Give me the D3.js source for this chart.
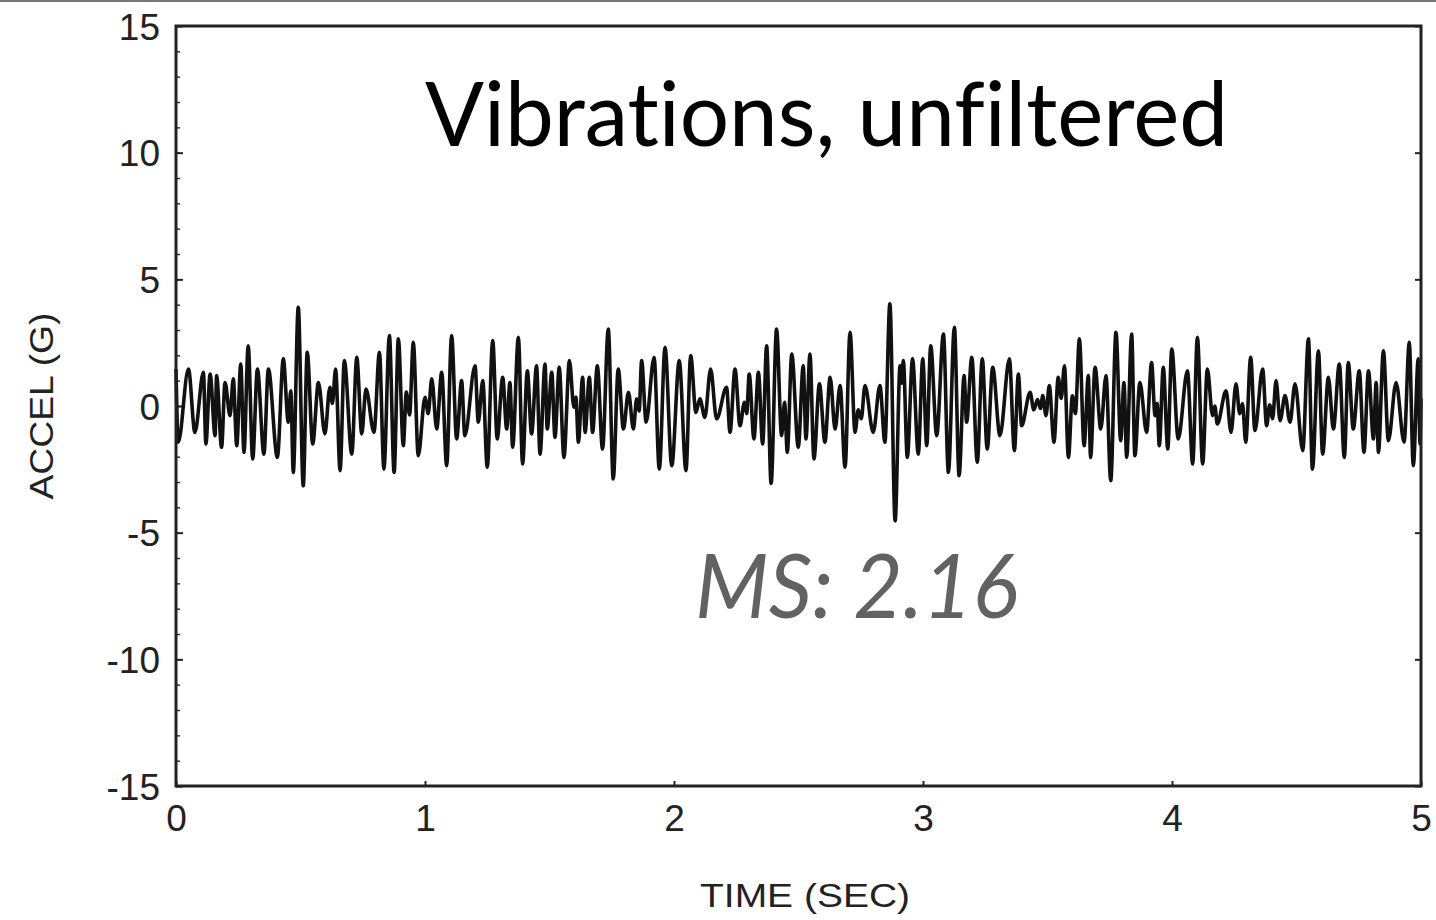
<!DOCTYPE html>
<html>
<head>
<meta charset="utf-8">
<script src="https://cdn.jsdelivr.net/npm/d3@7"></script>
<style>
  body { margin: 0; background: #fff; overflow: hidden; }
</style>
</head>
<body>
<div id="vis"></div>
<script>
// accelerometer trace, one swing at a time (sec, G)
let time = [
  0.000, 0.009, 0.050, 0.076, 0.110, 0.120, 0.137, 0.157, 0.163, 0.183,
  0.197, 0.217, 0.230, 0.244, 0.260, 0.273, 0.290, 0.308, 0.327, 0.353,
  0.371, 0.407, 0.431, 0.451, 0.461, 0.471, 0.491, 0.511, 0.527, 0.549,
  0.572, 0.598, 0.618, 0.628, 0.641, 0.659, 0.676, 0.706, 0.726, 0.746,
  0.763, 0.795, 0.817, 0.835, 0.857, 0.876, 0.893, 0.913, 0.925, 0.938,
  0.953, 0.973, 1.000, 1.013, 1.027, 1.047, 1.067, 1.087, 1.107, 1.127,
  1.147, 1.160, 1.201, 1.214, 1.232, 1.250, 1.272, 1.290, 1.312, 1.328,
  1.341, 1.352, 1.375, 1.392, 1.411, 1.428, 1.448, 1.462, 1.482, 1.491,
  1.509, 1.522, 1.539, 1.558, 1.580, 1.598, 1.606, 1.616, 1.633, 1.643,
  1.660, 1.673, 1.692, 1.713, 1.736, 1.756, 1.776, 1.797, 1.817, 1.837,
  1.850, 1.860, 1.870, 1.888, 1.920, 1.941, 1.964, 1.991, 2.021, 2.048,
  2.067, 2.088, 2.104, 2.124, 2.147, 2.171, 2.211, 2.225, 2.245, 2.265,
  2.283, 2.292, 2.302, 2.321, 2.339, 2.356, 2.372, 2.390, 2.412, 2.432,
  2.444, 2.455, 2.473, 2.499, 2.519, 2.530, 2.546, 2.562, 2.584, 2.606,
  2.627, 2.647, 2.667, 2.687, 2.707, 2.727, 2.740, 2.752, 2.767, 2.800,
  2.827, 2.847, 2.867, 2.888, 2.908, 2.914, 2.921, 2.937, 2.958, 2.981,
  2.999, 3.015, 3.031, 3.055, 3.082, 3.102, 3.126, 3.145, 3.165, 3.175,
  3.196, 3.218, 3.238, 3.258, 3.280, 3.309, 3.347, 3.367, 3.383, 3.396,
  3.430, 3.445, 3.460, 3.472, 3.481, 3.494, 3.507, 3.526, 3.543, 3.555,
  3.568, 3.584, 3.600, 3.612, 3.628, 3.647, 3.664, 3.673, 3.691, 3.714,
  3.735, 3.754, 3.775, 3.794, 3.807, 3.818, 3.838, 3.851, 3.871, 3.898,
  3.918, 3.932, 3.940, 3.949, 3.965, 3.983, 3.999, 4.025, 4.062, 4.083,
  4.102, 4.123, 4.142, 4.163, 4.172, 4.182, 4.217, 4.237, 4.257, 4.272,
  4.283, 4.296, 4.316, 4.333, 4.364, 4.380, 4.392, 4.404, 4.418, 4.434,
  4.454, 4.474, 4.494, 4.525, 4.548, 4.564, 4.588, 4.605, 4.628, 4.648,
  4.672, 4.692, 4.708, 4.728, 4.752, 4.771, 4.789, 4.809, 4.820, 4.829,
  4.849, 4.869, 4.900, 4.932, 4.953, 4.969, 4.989, 4.996, 5.000
]
let accel = [
   1.46, -1.43,  1.46, -1.04,  1.33, -1.50,  1.26, -1.17,  1.20, -1.63,
   0.93, -0.38,  1.07, -1.57,  1.66, -1.83,  2.38, -2.09,  1.46, -1.90,
   1.46, -2.03,  1.86, -0.64,  0.60, -2.62,  3.90, -3.15,  2.12, -1.50,
   0.93, -1.10,  0.74,  0.10,  1.46, -2.55,  1.79, -1.90,  1.92, -1.10,
   0.67, -1.04,  2.12, -2.49,  2.78, -2.62,  2.65, -1.57,  0.55, -0.35,
   2.51, -1.96,  0.34, -0.30,  1.07, -0.91,  1.33, -2.36,  2.78, -1.30,
   1.00, -1.17,  1.59, -0.64,  1.00, -2.42,  2.58, -1.30,  1.13, -0.91,
   0.93, -1.63,  2.71, -2.29,  1.39, -1.10,  1.59, -1.90,  1.66, -0.91,
   1.33, -1.24,  1.53, -2.03,  1.79, -0.05,  0.35, -1.43,  1.13, -1.04,
   1.13, -1.04,  1.59, -1.70,  3.04, -2.88,  1.46, -0.91,  0.54, -0.91,
   0.28, -0.20,  1.79, -0.64,  1.92, -2.49,  2.32, -2.36,  1.79, -2.55,
   1.99, -0.25,  0.28, -0.45,  1.46, -0.51,  0.74, -1.04,  1.46, -0.78,
   0.15, -0.30,  1.26, -1.30,  1.33, -1.50,  2.38, -3.05,  3.04, -1.17,
   0.15, -1.83,  2.05, -1.63,  1.59, -1.30,  2.05, -2.09,  0.88, -1.43,
   1.13, -0.91,  0.81, -2.42,  2.91, -1.04, -0.15, -0.50,  0.81, -1.04,
   0.81, -1.43,  4.03, -4.53,  1.59,  0.90,  1.79, -2.03,  1.86, -1.90,
   1.86, -1.57,  2.38, -1.17,  2.84, -2.62,  3.11, -2.75,  1.20, -0.64,
   1.92, -2.22,  1.86, -1.70,  1.53, -1.17,  1.86, -1.76,  1.26, -0.78,
   0.54, -0.15,  0.25, -0.10,  0.41, -0.38,  0.81, -1.43,  1.13,  0.30,
   1.59, -2.03,  0.40, -0.30,  2.65, -1.57,  1.20, -2.03,  1.53, -0.91,
   1.20, -2.95,  2.91, -1.37,  0.93, -2.03,  2.84, -1.96,  0.93, -1.04,
   1.72, -0.38,  0.10, -1.57,  1.53, -1.70,  2.25, -1.30,  1.39, -2.29,
   2.71, -2.29,  1.46, -0.38,  0.00, -0.71,  0.60, -1.04,  0.88, -0.30,
   0.10, -1.43,  1.92, -0.97,  1.46, -0.78,  0.05, -0.50,  1.00, -0.58,
   0.41, -0.64,  0.88, -1.76,  2.65, -2.49,  2.18, -1.90,  1.13, -0.91,
   1.66, -2.03,  1.72, -0.91,  1.39, -1.83,  1.39, -1.30,  0.93, -1.83,
   2.18, -1.37,  0.93, -1.43,  2.51, -2.36,  1.86, -1.50,  0.30
]
let xTicks = [0, 1, 2, 3, 4, 5]
let yTicks = [-15, -10, -5, 0, 5, 10, 15]
let yMinor = d3.range(-15, 16, 1)
let title = 'Vibrations, unfiltered'
let note = 'MS: 2.16'

let width = 1436, height = 920
let plot = { left: 176, right: 1421, top: 26, bottom: 786 }

let svg = d3.select('#vis')
  .append('svg')
  .attr('width', width)
  .attr('height', height)
  .style('display', 'block')
  .style('background-color', 'white')

// thin rule along the very top of the slide
svg.append('rect')
  .attr('x', 0).attr('y', 0)
  .attr('width', width).attr('height', 2)
  .attr('fill', '#777')

let x = d3.scaleLinear().domain([0, 5]).range([plot.left, plot.right])
let y = d3.scaleLinear().domain([-15, 15]).range([plot.bottom, plot.top])

let tickFont = '"Liberation Sans", Arial, sans-serif'
let plain = d => String(d)   // plain hyphen minus, no decimals

// minor ticks on the left side, every 1 G
svg.append('g')
  .attr('transform', `translate(${plot.left},0)`)
  .call(d3.axisLeft(y).tickValues(yMinor).tickSize(-4).tickFormat(''))
  .call(g => g.select('.domain').remove())
  .call(g => g.selectAll('line').attr('stroke', '#333').attr('stroke-width', 1.5))

let yAxis = svg.append('g')
  .attr('transform', `translate(${plot.left},0)`)
  .call(d3.axisLeft(y).tickValues(yTicks).tickSize(-7).tickPadding(16).tickFormat(plain))
yAxis.select('.domain').remove()
yAxis.selectAll('line').attr('stroke', '#222').attr('stroke-width', 2)
yAxis.selectAll('text')
  .attr('dy', '0.36em')
  .style('font-family', tickFont)
  .style('font-size', '37px')
  .attr('fill', '#222')

// right side ticks, no labels
svg.append('g')
  .attr('transform', `translate(${plot.right},0)`)
  .call(d3.axisRight(y).tickValues(yTicks).tickSize(-6).tickFormat(''))
  .call(g => g.select('.domain').remove())
  .call(g => g.selectAll('line').attr('stroke', '#222').attr('stroke-width', 2))

let xAxis = svg.append('g')
  .attr('transform', `translate(0,${plot.bottom})`)
  .call(d3.axisBottom(x).tickValues(xTicks).tickSize(-5).tickPadding(19).tickFormat(plain))
xAxis.select('.domain').remove()
xAxis.selectAll('line').attr('stroke', '#222').attr('stroke-width', 2)
xAxis.selectAll('text')
  .style('font-family', tickFont)
  .style('font-size', '37px')
  .attr('fill', '#222')

// the trace
let line = d3.line()
  .x((d, i) => x(time[i]))
  .y(d => y(d))
  .curve(d3.curveMonotoneX)

svg.append('path')
  .datum(accel)
  .attr('d', line)
  .attr('fill', 'none')
  .attr('stroke', '#111')
  .attr('stroke-width', 3.6)
  .attr('stroke-linejoin', 'round')

// frame around the plot
svg.append('rect')
  .attr('x', plot.left).attr('y', plot.top)
  .attr('width', plot.right - plot.left)
  .attr('height', plot.bottom - plot.top)
  .attr('fill', 'none')
  .attr('stroke', '#222')
  .attr('stroke-width', 3)

// axis titles
svg.append('text')
  .attr('x', 805).attr('y', 907)
  .attr('text-anchor', 'middle')
  .attr('textLength', 210)
  .attr('lengthAdjust', 'spacingAndGlyphs')
  .style('font-family', tickFont)
  .style('font-size', '33px')
  .attr('fill', '#222')
  .text('TIME (SEC)')

svg.append('text')
  .attr('transform', 'translate(53,406) rotate(-90)')
  .attr('text-anchor', 'middle')
  .attr('textLength', 187)
  .attr('lengthAdjust', 'spacingAndGlyphs')
  .style('font-family', tickFont)
  .style('font-size', '33px')
  .attr('fill', '#222')
  .text('ACCEL (G)')

// slide annotations
svg.append('text')
  .attr('x', 425).attr('y', 146)
  .attr('textLength', 803)
  .attr('lengthAdjust', 'spacingAndGlyphs')
  .style('font-family', 'Lato, "Open Sans", sans-serif')
  .style('font-size', '89px')
  .style('font-feature-settings', '"liga" 0')
  .attr('fill', '#000')
  .text(title)

svg.append('text')
  .attr('x', 695).attr('y', 618)
  .attr('textLength', 323)
  .attr('lengthAdjust', 'spacingAndGlyphs')
  .style('font-family', 'Lato, "Open Sans", sans-serif')
  .style('font-style', 'italic')
  .style('font-size', '90px')
  .attr('fill', '#626262')
  .text(note)
</script>
</body>
</html>
